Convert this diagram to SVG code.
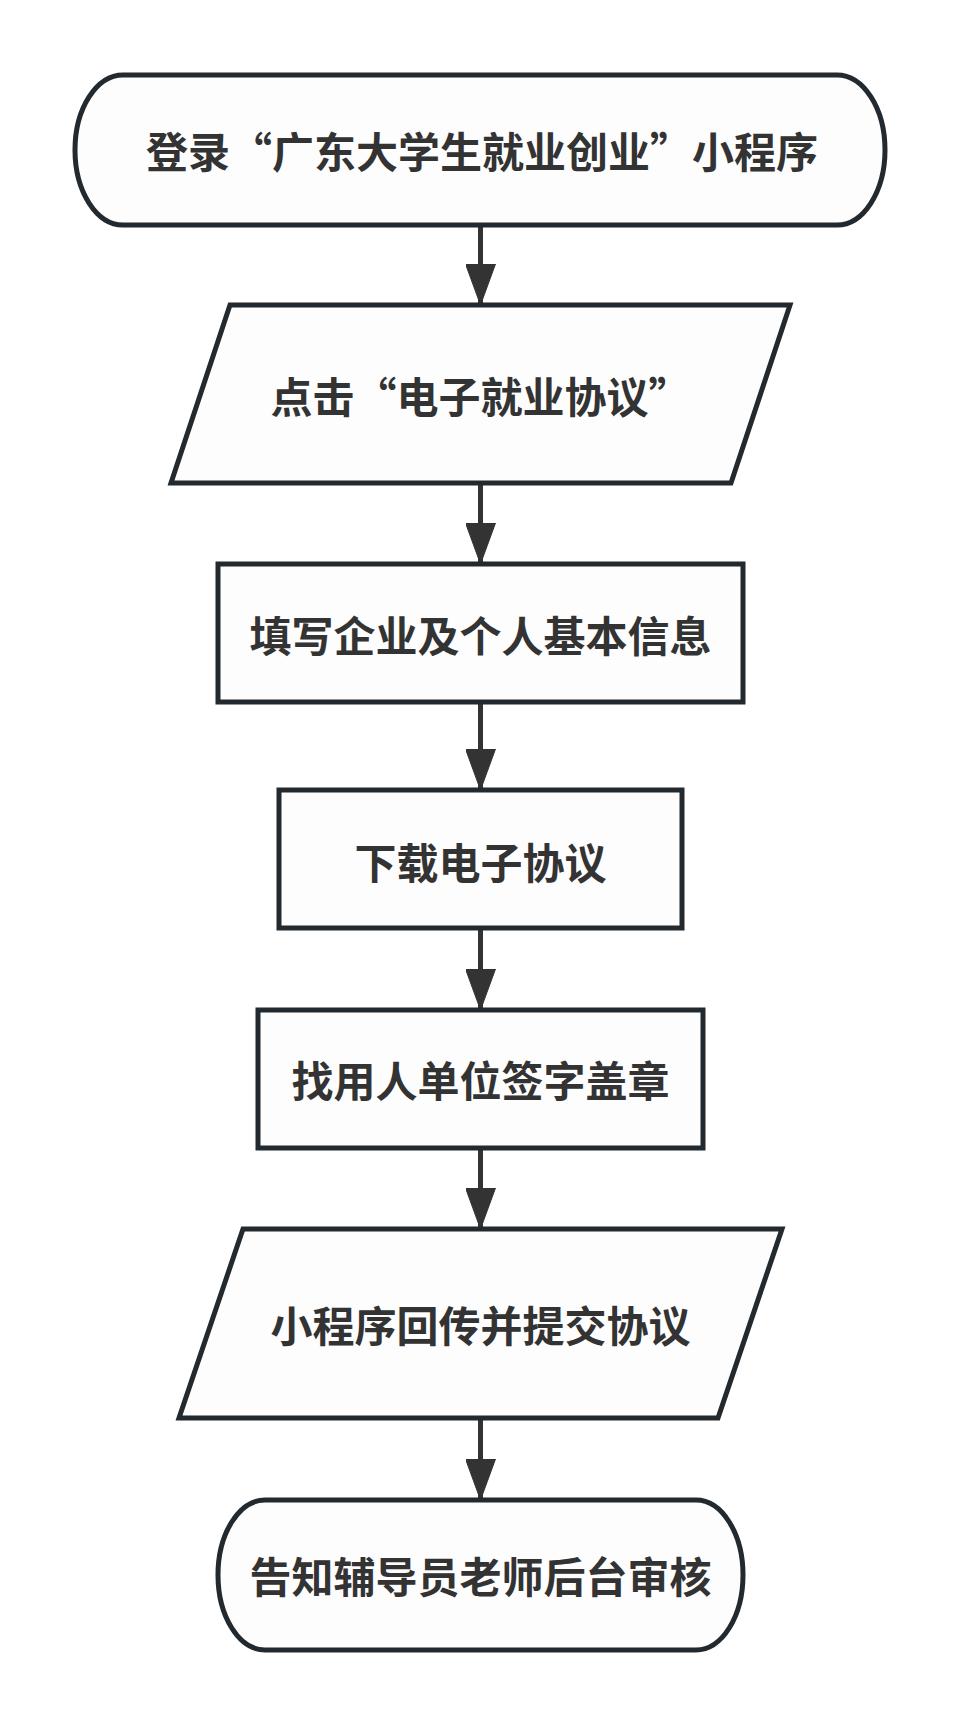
<svg xmlns="http://www.w3.org/2000/svg" width="960" height="1725" viewBox="0 0 960 1725">
  <defs>
    <marker id="arrow" markerUnits="userSpaceOnUse" markerWidth="41" markerHeight="30" viewBox="0 0 41 30" refX="41" refY="15" orient="auto">
      <path d="M0,0 L41,15 L0,30 Z" fill="#333333" stroke="#333333" stroke-width="1" stroke-linejoin="round"/>
    </marker>
    <style>
      .shape { fill: #fdfdfd; stroke: #22292f; stroke-width: 5; stroke-linejoin: miter; }
      .label { font-family: "Noto Sans CJK SC", "Noto Sans", "Liberation Sans", sans-serif; font-size: 42px; font-weight: bold; fill: #333333; text-anchor: middle; }
      .edge { stroke: #333333; stroke-width: 5; fill: none; }
    </style>
  </defs>
  <rect width="960" height="1725" fill="#ffffff"/>

  <g id="connectors">
    <line class="edge" x1="480.5" y1="225" x2="480.5" y2="305" marker-end="url(#arrow)"/>
    <line class="edge" x1="480.5" y1="483" x2="480.5" y2="564" marker-end="url(#arrow)"/>
    <line class="edge" x1="480.5" y1="702" x2="480.5" y2="790" marker-end="url(#arrow)"/>
    <line class="edge" x1="480.5" y1="928" x2="480.5" y2="1010" marker-end="url(#arrow)"/>
    <line class="edge" x1="480.5" y1="1148" x2="480.5" y2="1229" marker-end="url(#arrow)"/>
    <line class="edge" x1="480.5" y1="1418" x2="480.5" y2="1500" marker-end="url(#arrow)"/>
  </g>

  <g id="node1">
    <rect class="shape" x="75" y="75" width="810" height="150" rx="48" ry="75"/>
    <text class="label" x="482" y="168">登录“广东大学生就业创业”小程序</text>
  </g>
  <g id="node2">
    <polygon class="shape" points="230,305 790,305 731,483 171,483"/>
    <text class="label" x="480.5" y="413">点击“电子就业协议”</text>
  </g>
  <g id="node3">
    <rect class="shape" x="218" y="564" width="525" height="138"/>
    <text class="label" x="480.5" y="652">填写企业及个人基本信息</text>
  </g>
  <g id="node4">
    <rect class="shape" x="279" y="790" width="403" height="138"/>
    <text class="label" x="480.5" y="879">下载电子协议</text>
  </g>
  <g id="node5">
    <rect class="shape" x="258" y="1010" width="445" height="138"/>
    <text class="label" x="480.5" y="1097">找用人单位签字盖章</text>
  </g>
  <g id="node6">
    <polygon class="shape" points="243,1229 782,1229 718,1418 179,1418"/>
    <text class="label" x="480.5" y="1342">小程序回传并提交协议</text>
  </g>
  <g id="node7">
    <rect class="shape" x="218" y="1500" width="525" height="150" rx="47" ry="75"/>
    <text class="label" x="480.5" y="1593">告知辅导员老师后台审核</text>
  </g>
</svg>
